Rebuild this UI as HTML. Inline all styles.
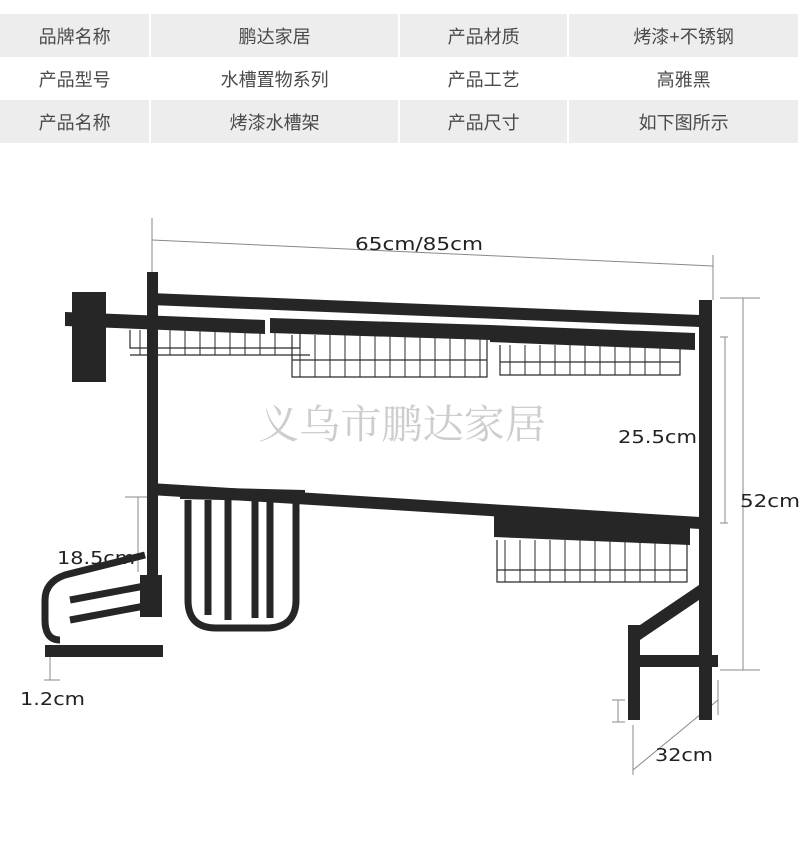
<!DOCTYPE html>
<html><head><meta charset="utf-8"><style>
body{margin:0;background:#fff;width:800px;height:842px;overflow:hidden;font-family:"Liberation Sans","Noto Sans CJK SC",sans-serif}
.t{position:absolute;left:0;top:14px;width:800px}
.r{display:flex;height:43px}
.r div{display:flex;align-items:center;justify-content:center;font-size:18px;color:#4a4a4a;margin-right:2px}
.g div{background:#ededed}
svg{position:absolute;left:0;top:0}
</style></head><body>
<div class="t">
<div class="r g"><div style="width:150px">品牌名称</div><div style="width:248px">鹏达家居</div><div style="width:168px">产品材质</div><div style="width:230px">烤漆+不锈钢</div></div>
<div class="r"><div style="width:150px">产品型号</div><div style="width:248px">水槽置物系列</div><div style="width:168px">产品工艺</div><div style="width:230px">高雅黑</div></div>
<div class="r g"><div style="width:150px">产品名称</div><div style="width:248px">烤漆水槽架</div><div style="width:168px">产品尺寸</div><div style="width:230px">如下图所示</div></div>
</div>
<svg width="800" height="842" viewBox="0 0 800 842">
<g stroke="#888" stroke-width="1" fill="none">
<line x1="152" y1="218" x2="152" y2="272"/><line x1="713" y1="255" x2="713" y2="300"/>
<line x1="152" y1="240" x2="713" y2="266"/>
<line x1="720" y1="298" x2="760" y2="298"/><line x1="720" y1="670" x2="760" y2="670"/><line x1="743" y1="298" x2="743" y2="670"/>
<line x1="720" y1="337" x2="728" y2="337"/><line x1="720" y1="523" x2="728" y2="523"/><line x1="725" y1="337" x2="725" y2="523"/>
<line x1="125" y1="497" x2="150" y2="497"/><line x1="138" y1="497" x2="138" y2="572"/>
<line x1="50" y1="655" x2="50" y2="680"/><line x1="44" y1="680" x2="60" y2="680"/>
<line x1="612" y1="700" x2="625" y2="700"/><line x1="612" y1="722" x2="625" y2="722"/><line x1="618" y1="700" x2="618" y2="722"/>
<line x1="633" y1="725" x2="633" y2="775"/><line x1="718" y1="680" x2="718" y2="715"/><line x1="633" y1="770" x2="718" y2="700"/>
</g>
<g fill="#222" font-size="18" font-family="DejaVu Sans,sans-serif" lengthAdjust="spacingAndGlyphs">
<text x="355" y="250" textLength="128" lengthAdjust="spacingAndGlyphs">65cm/85cm</text>
<text x="740" y="507" textLength="60" lengthAdjust="spacingAndGlyphs">52cm</text>
<text x="618" y="443" textLength="79" lengthAdjust="spacingAndGlyphs">25.5cm</text>
<text x="57" y="564" textLength="78" lengthAdjust="spacingAndGlyphs">18.5cm</text>
<text x="20" y="705" textLength="65" lengthAdjust="spacingAndGlyphs">1.2cm</text>
<text x="655" y="761" textLength="58" lengthAdjust="spacingAndGlyphs">32cm</text>
</g>
<text x="258" y="438" fill="#cdcdcd" font-size="40" textLength="288" lengthAdjust="spacingAndGlyphs" font-family="Noto Serif CJK SC,serif">义乌市鹏达家居</text>
<g fill="#262626">
<rect x="147" y="272" width="11" height="345"/>
<rect x="699" y="300" width="13" height="420"/>
<rect x="72" y="292" width="34" height="90"/>
<polygon points="150,293 700,315 700,327 150,305"/>
<polygon points="65,312 265,320 265,334 65,326"/>
<polygon points="270,318 490,325 490,340 270,333"/>
<polygon points="490,325 695,333 695,350 490,342"/>
<polygon points="150,483 700,517 700,529 150,495"/>
<polygon points="180,487 305,490 305,502 180,499"/>
<polygon points="494,514 690,522 690,545 494,537"/>
<rect x="45" y="645" width="118" height="12"/>
<rect x="140" y="575" width="22" height="42"/>
<rect x="628" y="655" width="90" height="12"/>
<rect x="628" y="625" width="12" height="95"/>
<polygon points="640,625 699,585 699,600 640,640"/>
</g>
<g stroke="#2a2a2a" fill="none" stroke-width="1.2">
<path d="M130,330 v18 h170 v-14 M130,355 h180"/>
<path d="M292,335 v42 h195 v-40 M292,360 h195"/>
<path d="M500,345 v30 h180 v-30 M500,362 h180"/>
<path d="M497,540 v42 h190 v-40 M497,570 h190"/>
</g>
<g stroke="#2a2a2a" stroke-width="1">
<path d="M300,335v42M315,335v42M330,335v42M345,335v42M360,335v42M375,335v42M390,335v42M405,335v42M420,335v42M435,335v42M450,335v42M465,335v42M480,335v42"/>
<path d="M140,330v25M155,330v25M170,330v25M185,330v25M200,330v25M215,330v25M230,330v25M245,330v25M260,330v25M275,330v25"/>
<path d="M510,345v30M525,345v30M540,345v30M555,345v30M570,345v30M585,345v30M600,345v30M615,345v30M630,345v30M645,345v30M660,345v30"/>
<path d="M505,540v42M520,540v42M535,540v42M550,540v42M565,540v42M580,540v42M595,540v42M610,540v42M625,540v42M640,540v42M655,540v42M670,540v42"/>
</g>
<g stroke="#262626" fill="none" stroke-width="7">
<path d="M188,500 v100 q0,28 28,28 h50 q30,0 30,-28 v-100"/>
<path d="M208,500 v115 M228,500 v120 M255,500 v118 M270,500 v118"/>
<path d="M60,640 q-15,0 -15,-20 v-20 q0,-18 20,-25 l80,-20"/>
<path d="M70,600 l80,-15 M70,620 l80,-15"/>
</g>
</svg>
</body></html>
